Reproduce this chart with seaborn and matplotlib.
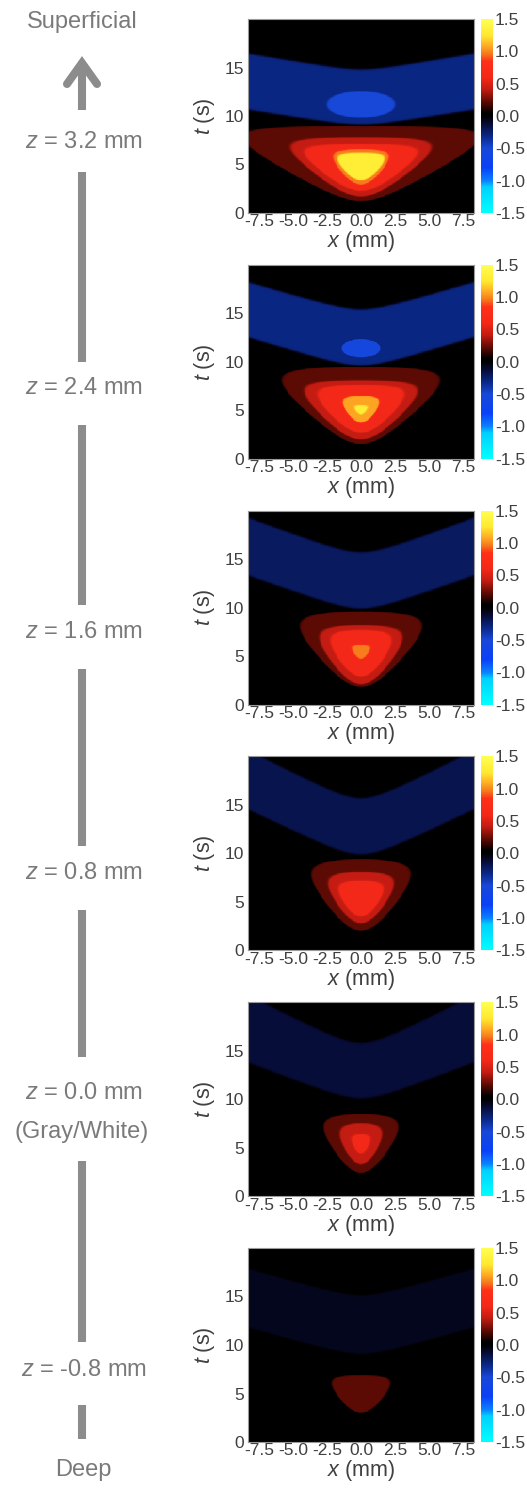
import numpy as np
import pandas as pd
import matplotlib.pyplot as plt
import seaborn as sns
from matplotlib.colors import LinearSegmentedColormap

sns.set_style('white')
plt.rcParams['font.family'] = ['Liberation Sans', 'DejaVu Sans']
plt.rcParams['axes.unicode_minus'] = False
plt.rcParams['mathtext.fontset'] = 'custom'
plt.rcParams['mathtext.it'] = 'Liberation Sans:italic'
plt.rcParams['mathtext.rm'] = 'Liberation Sans'

# depth of each panel (top = superficial)
depths = ['3.2', '2.4', '1.6', '0.8', '0.0', '-0.8']
x_ticks = [-7.5, -5.0, -2.5, 0.0, 2.5, 5.0, 7.5]
t_ticks = [0, 5, 10, 15]
cbar_ticks = [-1.5, -1.0, -0.5, 0.0, 0.5, 1.0, 1.5]
x_max, t_max = 8.3, 20.0

# positive response: nested regions (value, half width mm, onset s, end s)
red_regions = [
    [(0.22, 11.5, 1.2, 9.0), (0.42, 6.8, 1.7, 7.8), (0.60, 5.4, 2.3, 7.1),
     (0.97, 2.75, 2.9, 6.6), (1.30, 2.2, 3.4, 6.2)],
    [(0.22, 7.8, 1.5, 9.5), (0.42, 5.5, 2.0, 8.1), (0.60, 4.2, 2.7, 7.6),
     (1.07, 1.8, 3.7, 6.5), (1.30, 0.6, 4.6, 5.5)],
    [(0.22, 6.1, 1.8, 9.6), (0.42, 4.1, 2.1, 8.2), (0.60, 3.0, 2.9, 7.7),
     (0.97, 0.95, 4.7, 6.2)],
    [(0.22, 5.0, 2.0, 9.4), (0.42, 3.25, 2.8, 8.1), (0.60, 2.2, 3.5, 7.2)],
    [(0.22, 3.75, 2.4, 8.5), (0.42, 2.1, 3.3, 7.5), (0.60, 0.95, 4.4, 6.4)],
    [(0.22, 2.85, 3.0, 6.9)],
]

# negative (undershoot) band, V shaped in x
band_val = [-0.30, -0.30, -0.22, -0.18, -0.13, -0.07]
band_lo = [9.1, 9.6, 9.9, 9.9, 10.1, 9.1]
band_lo_slope = [0.23, 0.43, 0.50, 0.68, 0.54, 0.40]
band_hi = [14.8, 15.4, 15.7, 15.7, 15.8, 15.1]
band_hi_slope = [0.24, 0.41, 0.52, 0.72, 0.72, 0.40]

# deeper negative spot inside the band
dip_val = [-0.50, -0.55, 0, 0, 0, 0]
dip_t = [11.2, 11.4, 11, 11, 11, 11]
dip_hx = [2.5, 1.4, 1, 1, 1, 1]
dip_ht = [1.35, 0.9, 1, 1, 1, 1]

cmap_pos = [-1.5, -1.1, -1.0, -0.8, -0.5, -0.3, -0.12, 0.0, 0.05, 0.22, 0.42,
            0.6, 0.85, 0.97, 1.1, 1.25, 1.5]
cmap_col = ['#00ffff', '#00d0ff', '#0a80ff', '#0a40f8', '#1848d8', '#0a2682',
            '#070b34', '#000000', '#000000', '#5c0a04', '#c41c12', '#f42818',
            '#ff3018', '#f57c1c', '#ffb024', '#ffe830', '#ffff50']
cmap = LinearSegmentedColormap.from_list(
    'coldhot', [((p + 1.5) / 3.0, c) for p, c in zip(cmap_pos, cmap_col)], N=512)

nx, nt = 240, 320
xs = -x_max + (np.arange(nx) + 0.5) * 2 * x_max / nx
ts = t_max - (np.arange(nt) + 0.5) * t_max / nt
X, T = np.meshgrid(xs, ts)


def sig(v, e):
    return 0.5 * (1 + np.tanh(v / (2 * e)))


def vshape(r):
    return np.sqrt(X ** 2 + r ** 2) - r


def region(hw, bot, top):
    # rounded inverted triangle: onset delayed away from x = 0, flat end
    r = min(2.0, hw)
    k = (top - bot) / (np.sqrt(hw ** 2 + r ** 2) - r)
    lo = bot + k * vshape(r)
    slope = k * np.abs(X) / np.sqrt(X ** 2 + r ** 2)
    a = top - T
    b = (T - lo) / np.sqrt(1 + slope ** 2)
    rho = 0.18 * (top - bot)
    m = -rho * np.logaddexp(-a / rho, -b / rho)
    return sig(m, 0.03)


def field(k):
    f = np.zeros_like(X)
    prev = 0.0
    for val, hw, bot, top in red_regions[k]:
        f += (val - prev) * region(hw, bot, top)
        prev = val
    lo = band_lo[k] + band_lo_slope[k] * vshape(1.6)
    hi = band_hi[k] + band_hi_slope[k] * vshape(1.6)
    band = sig(T - lo, 0.06) * sig(hi - T, 0.06)
    f += band_val[k] * band
    if dip_val[k] != 0:
        r = (np.abs(X) / dip_hx[k]) ** 2.3 + (np.abs(T - dip_t[k]) / dip_ht[k]) ** 2
        f += (dip_val[k] - band_val[k]) * sig(1 - r, 0.04)
    return pd.DataFrame(f, index=ts, columns=xs)


fig = plt.figure(figsize=(5.27, 14.90), dpi=100)
W, H = 527.0, 1490.0

# left column: depth arrow
ov = fig.add_axes([0, 0, 1, 1])
ov.set_xlim(0, W)
ov.set_ylim(H, 0)
ov.axis('off')
gray = '#8c8c8c'
txt = '#7a7a7a'
ax_x = 82
label_y = [142, 388, 632, 873, 1093, 1370]
for d, y in zip(depths, label_y):
    ov.text(ax_x + 2, y, r'$z$ = ' + d + ' mm', ha='center', va='center',
            fontsize=17, color=txt)
ov.text(ax_x, 1132, '(Gray/White)', ha='center', va='center', fontsize=17, color=txt)
ov.text(ax_x, 22, 'Superficial', ha='center', va='center', fontsize=17, color=txt)
ov.text(ax_x + 1, 1470, 'Deep', ha='center', va='center', fontsize=17, color=txt)
shafts = [(64, 110), (172, 362), (425, 605), (669, 846), (910, 1057),
          (1161, 1342), (1405, 1439)]
for y0, y1 in shafts:
    ov.plot([ax_x, ax_x], [y0, y1], color=gray, lw=5.8, solid_capstyle='butt')
ov.plot([ax_x - 15, ax_x, ax_x + 15], [84, 63, 84], color=gray, lw=5.8,
        solid_capstyle='round', solid_joinstyle='miter')

tick_color = '#404040'
for k in range(6):
    top = 19 + k * 245.8
    ax = fig.add_axes([248 / W, 1 - (top + 194) / H, 226 / W, 194 / H])
    cax = fig.add_axes([481 / W, 1 - (top + 194) / H, 12 / W, 194 / H])
    sns.heatmap(field(k), ax=ax, cmap=cmap, vmin=-1.5, vmax=1.5, cbar_ax=cax,
                xticklabels=False, yticklabels=False, rasterized=True)
    ax.set_xticks([(v + x_max) / (2 * x_max) * nx for v in x_ticks])
    ax.set_xticklabels([f'{v:.1f}' for v in x_ticks])
    ax.set_yticks([(t_max - v) / t_max * nt for v in t_ticks])
    ax.set_yticklabels([str(v) for v in t_ticks], rotation=0)
    ax.tick_params(axis='both', length=0, labelsize=12.5, colors=tick_color)
    ax.tick_params(axis='x', pad=1)
    ax.tick_params(axis='y', pad=3)
    ax.set_xlabel(r'$x$ (mm)', fontsize=15.5, color=tick_color, labelpad=0)
    ax.set_ylabel(r'$t$ (s)', fontsize=15.5, color=tick_color, labelpad=5)
    for s in ax.spines.values():
        s.set_visible(True)
        s.set_color('#9a9a9a')
        s.set_linewidth(0.8)
    cbar = ax.collections[0].colorbar
    cbar.set_ticks(cbar_ticks)
    cbar.set_ticklabels([f'{v:.1f}' for v in cbar_ticks])
    cbar.ax.tick_params(length=0, pad=1.5, labelsize=12.5, colors=tick_color)
    cbar.outline.set_visible(False)

fig.savefig('out.png', dpi=100)
